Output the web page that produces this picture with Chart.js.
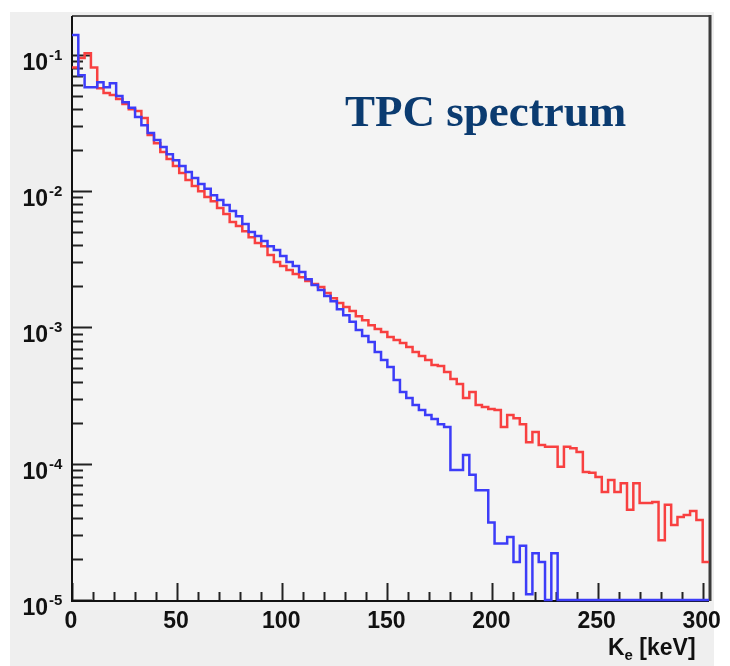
<!DOCTYPE html>
<html>
<head>
<meta charset="utf-8">
<script src="https://cdn.jsdelivr.net/npm/chart.js@4.4.1/dist/chart.umd.min.js"></script>
<style>
    html, body { margin: 0; padding: 0; background: #ffffff; }
    canvas { display: block; }
</style>
</head>
<body>
<canvas id="spectrum" width="730" height="666"></canvas>
<script>
        // 1. Data (histograms, 3 keV bins starting at 0 keV, 0 = empty bin)
        const binWidth = 3;

        const blueCounts = [
            0.14, 0.071, 0.058, 0.058, 0.063, 0.058, 0.062, 0.050, 0.045, 0.041,
            0.035, 0.0305, 0.0267, 0.0237, 0.0211, 0.0187, 0.0169, 0.0153, 0.0138, 0.0125,
            0.0113, 0.0104, 0.00935, 0.00861, 0.00791, 0.00714, 0.00656, 0.00574, 0.00501, 0.00469,
            0.00431, 0.00395, 0.0037, 0.00334, 0.00302, 0.00282, 0.00255, 0.00226, 0.00205, 0.00188,
            0.0017, 0.00156, 0.00136, 0.00123, 0.0011, 0.000957, 0.000865, 0.000782, 0.000661, 0.000577,
            0.000512, 0.000411, 0.000336, 0.000303, 0.00027, 0.000248, 0.000228, 0.000213, 0.000195, 0.000186,
            9.0e-5, 9.0e-5, 1.16e-4, 8.3e-5, 6.4e-5, 6.4e-5, 3.7e-5, 2.6e-5, 2.6e-5, 2.9e-5,
            1.9e-5, 2.5e-5, 1.1e-5, 2.2e-5, 1.9e-5, 0, 2.2e-5, 0, 0, 0,
            0, 0, 0, 0, 0, 0, 0, 0, 0, 0,
            0, 0, 0, 0, 0, 0, 0, 0, 0, 0,
            0
        ];

        const redCounts = [
            0.081, 0.095, 0.103, 0.081, 0.057, 0.0525, 0.0507, 0.0474, 0.0436, 0.040,
            0.0387, 0.0344, 0.0258, 0.0225, 0.0194, 0.0172, 0.0153, 0.0136, 0.0121, 0.0109,
            0.0100, 0.00906, 0.00845, 0.00752, 0.00679, 0.00593, 0.00555, 0.00509, 0.0046, 0.00416,
            0.00395, 0.0034, 0.00302, 0.00282, 0.00264, 0.00247, 0.00234, 0.00219, 0.00208, 0.00198,
            0.00179, 0.00164, 0.00151, 0.00141, 0.00132, 0.00121, 0.00113, 0.00104, 0.000973, 0.000925,
            0.000851, 0.000809, 0.000769, 0.000718, 0.000661, 0.000617, 0.000577, 0.00053, 0.000521, 0.000471,
            0.000418, 0.000385, 0.000303, 0.000336, 0.00027, 0.000261, 0.000252, 0.000248, 0.000186, 0.000228,
            0.000216, 0.000195, 0.000144, 0.000171, 0.000137, 0.000133, 0.000133, 9.5e-5, 0.000133, 0.00013,
            0.000122, 8.7e-5, 8.6e-5, 8.0e-5, 6.2e-5, 7.6e-5, 6.2e-5, 7.2e-5, 4.6e-5, 7.2e-5,
            5.15e-5, 5.15e-5, 5.24e-5, 2.75e-5, 5.0e-5, 3.55e-5, 4.06e-5, 4.21e-5, 4.5e-5, 3.86e-5,
            1.9e-5
        ];

        const xTickLabels = ['0', '50', '100', '150', '200', '250', '300'];
        const xMinorStep = 10;
        const yDecades = [-1, -2, -3, -4, -5];
        const xMin = 0, xMax = 303;
        const yMin = 1e-5, yMax = 0.193;

        const titleText = 'TPC spectrum';
        const axisTitle = ['K', 'e', ' [keV]'];

        // histogram -> step points (left bin edges + closing edge), empty bins sit on the floor
        function toSteps(counts) {
            const pts = counts.map((v, i) => ({ x: xMin + i * binWidth, y: v > 0 ? v : yMin }));
            pts.push({ x: xMin + counts.length * binWidth, y: pts[pts.length - 1].y });
            return pts;
        }

        // 2. Frame, ticks and labels drawn from the chart's own scales
        const rootFrame = {
            id: 'rootFrame',
            beforeDraw(chart) {
                const { ctx, chartArea: a } = chart;
                ctx.save();
                ctx.fillStyle = '#ffffff';
                ctx.fillRect(0, 0, chart.width, chart.height);
                ctx.fillStyle = '#efefef';
                ctx.fillRect(10, 12, 704, 654);
                ctx.fillStyle = '#f4f4f4';
                ctx.fillRect(a.left, a.top, a.right - a.left, a.bottom - a.top);
                ctx.restore();
            },
            beforeDatasetsDraw(chart) {
                const { ctx, chartArea: a } = chart;
                const xs = chart.scales.x;
                const ys = chart.scales.y;
                ctx.save();

                // top and right frame
                ctx.strokeStyle = '#555555';
                ctx.lineWidth = 2;
                ctx.beginPath();
                ctx.moveTo(a.left, a.top);
                ctx.lineTo(a.right, a.top);
                ctx.stroke();
                ctx.strokeStyle = '#3a3a3a';
                ctx.lineWidth = 3;
                ctx.beginPath();
                ctx.moveTo(a.right + 1, a.top - 1);
                ctx.lineTo(a.right + 1, a.bottom + 1);
                ctx.stroke();

                // y ticks (inside)
                ctx.strokeStyle = '#222222';
                ctx.lineWidth = 2;
                yDecades.forEach(e => {
                    for (let m = 1; m <= 9; m++) {
                        const v = m * Math.pow(10, e);
                        if (v < yMin || v > yMax) continue;
                        const py = Math.round(ys.getPixelForValue(v)) + 0.5;
                        ctx.beginPath();
                        ctx.moveTo(a.left, py);
                        ctx.lineTo(a.left + (m === 1 ? 20 : 11), py);
                        ctx.stroke();
                    }
                });

                // x ticks (inside)
                for (let v = xMin; v <= xMax; v += xMinorStep) {
                    const px = Math.round(xs.getPixelForValue(v)) + 0.5;
                    ctx.beginPath();
                    ctx.moveTo(px, a.bottom);
                    ctx.lineTo(px, a.bottom - (v % 50 === 0 ? 17 : 8));
                    ctx.stroke();
                }

                // axes
                ctx.strokeStyle = '#111111';
                ctx.lineWidth = 2;
                ctx.beginPath();
                ctx.moveTo(a.left, a.top);
                ctx.lineTo(a.left, a.bottom + 1);
                ctx.lineTo(a.right, a.bottom + 1);
                ctx.stroke();
                ctx.restore();
            },
            afterDraw(chart) {
                const { ctx } = chart;
                const xs = chart.scales.x;
                const ys = chart.scales.y;
                ctx.save();
                ctx.fillStyle = '#111111';
                ctx.textBaseline = 'alphabetic';

                // x labels
                ctx.font = "bold 23px 'Liberation Sans', Arial, sans-serif";
                ctx.textAlign = 'center';
                xTickLabels.forEach(t => {
                    ctx.fillText(t, xs.getPixelForValue(Number(t)) - 1, 628);
                });

                // y labels 10^n
                yDecades.forEach(e => {
                    const py = ys.getPixelForValue(Math.pow(10, e));
                    ctx.font = "bold 23px 'Liberation Sans', Arial, sans-serif";
                    ctx.textAlign = 'right';
                    ctx.fillText('10', 48, py + 15);
                    ctx.font = "bold 15px 'Liberation Sans', Arial, sans-serif";
                    ctx.textAlign = 'left';
                    ctx.fillText(String(e), 49, py + 5);
                });

                // axis title K_e [keV]
                ctx.textAlign = 'left';
                let x0 = 608;
                ctx.font = "bold 23px 'Liberation Sans', Arial, sans-serif";
                ctx.fillText(axisTitle[0], x0, 655);
                x0 += ctx.measureText(axisTitle[0]).width;
                ctx.font = "bold 15px 'Liberation Sans', Arial, sans-serif";
                ctx.fillText(axisTitle[1], x0, 660);
                x0 += ctx.measureText(axisTitle[1]).width;
                ctx.font = "bold 23px 'Liberation Sans', Arial, sans-serif";
                ctx.fillText(axisTitle[2], x0, 655);

                // title
                ctx.fillStyle = '#0b3b70';
                ctx.font = "bold 45px 'Liberation Serif', 'Times New Roman', serif";
                ctx.fillText(titleText, 345, 126);
                ctx.restore();
            }
        };

        // 3. Chart
        const ctx = document.getElementById('spectrum');
        new Chart(ctx, {
            type: 'line',
            data: {
                datasets: [{
                    label: 'blue',
                    data: toSteps(blueCounts),
                    borderColor: '#3c3cf8',
                    borderWidth: 2.5,
                    stepped: 'before',
                    pointRadius: 0,
                    fill: false,
                    clip: 3
                }, {
                    label: 'red',
                    data: toSteps(redCounts),
                    borderColor: '#f84040',
                    borderWidth: 2.5,
                    stepped: 'before',
                    pointRadius: 0,
                    fill: false,
                    clip: 3
                }]
            },
            options: {
                responsive: false,
                animation: false,
                devicePixelRatio: 1,
                layout: { padding: { left: 72, top: 16, right: 21, bottom: 66 } },
                plugins: {
                    legend: { display: false },
                    tooltip: { enabled: false }
                },
                scales: {
                    x: { type: 'linear', min: xMin, max: xMax, display: false },
                    y: { type: 'logarithmic', min: yMin, max: yMax, display: false }
                }
            },
            plugins: [rootFrame]
        });
</script>
</body>
</html>
